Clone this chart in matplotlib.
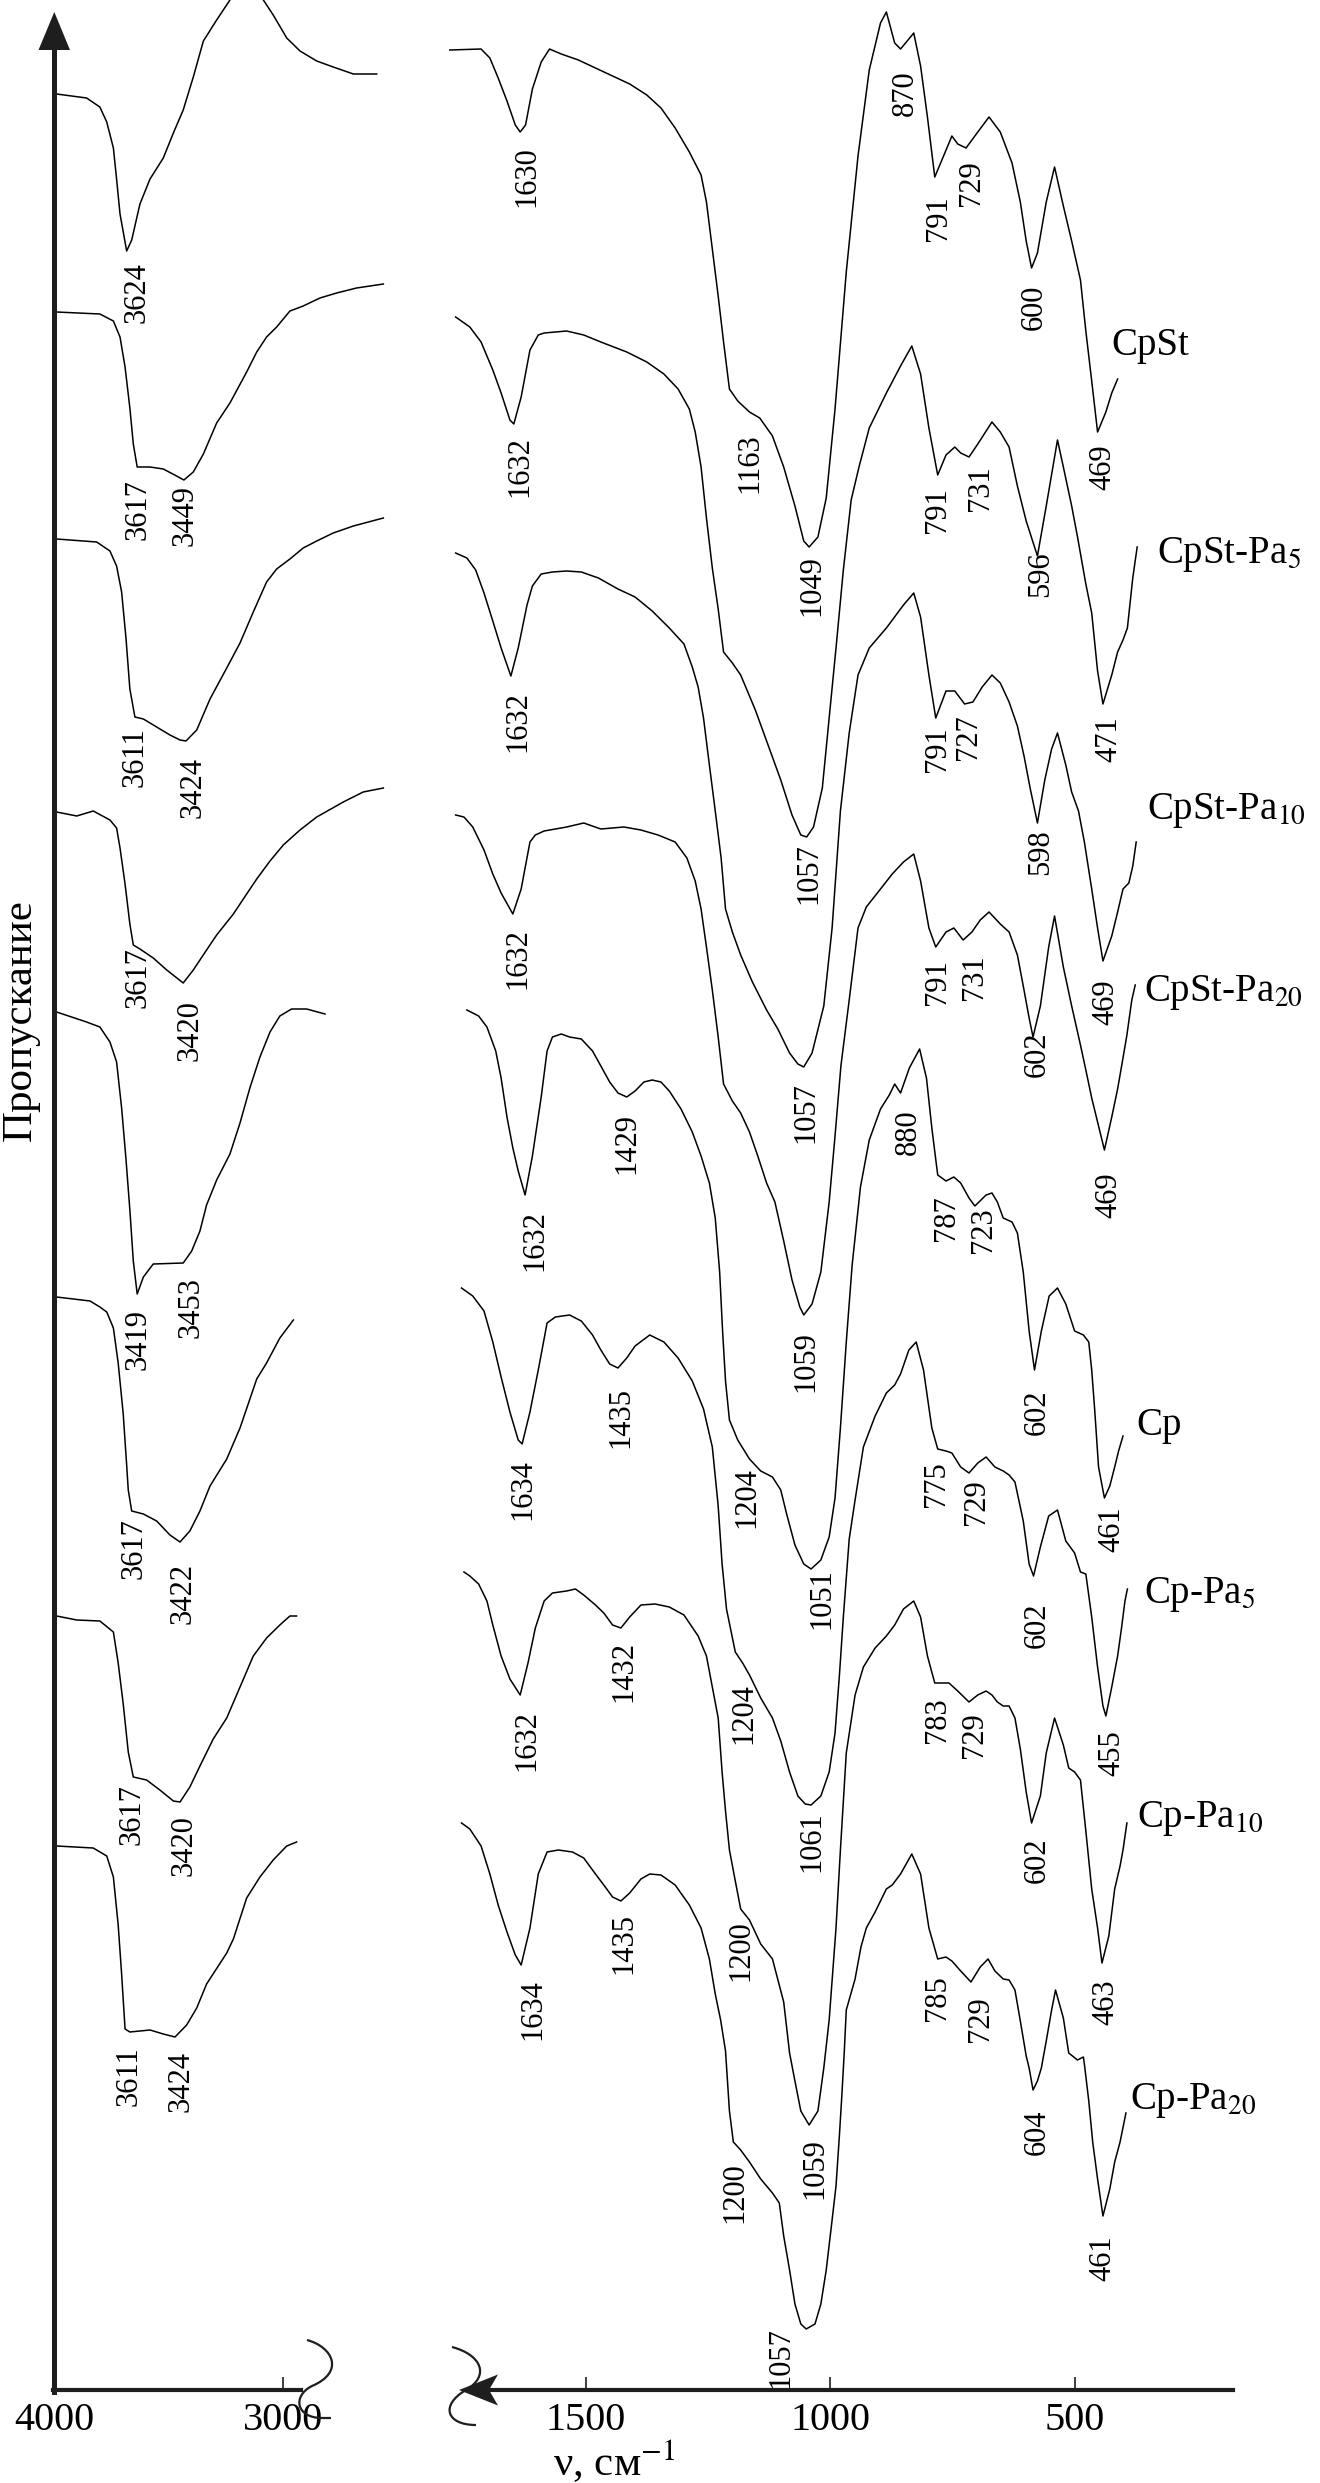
import numpy as np
import matplotlib.pyplot as plt
import matplotlib.transforms as mtransforms
from matplotlib.path import Path
from matplotlib.patches import PathPatch, Polygon

plt.rcParams['font.family'] = ['Liberation Serif', 'DejaVu Serif']
plt.rcParams['mathtext.fontset'] = 'stix'

# ИК-спектры, пропускание со сдвигом (усл. ед.); oh = 4000-2500 см-1, fp = 1800-350 см-1
cpst_oh = [(3990, 229.6), (3859, 229.2), (3801, 228.3), (3771, 226.8), (3742, 224.2), (3728, 221.1),
           (3713, 217.6), (3684, 213.9), (3662, 215.0), (3626, 218.6), (3582, 221.1), (3524, 223.2),
           (3480, 225.7), (3437, 228.0), (3393, 231.3), (3349, 234.9), (3291, 237.0), (3233, 239.0),
           (3201, 240.5), (3130, 240.3), (3087, 239.0), (3044, 237.5), (2985, 235.2), (2927, 233.9),
           (2854, 232.9), (2782, 232.3), (2694, 231.6), (2592, 231.6)]
cpst5_oh = [(3990, 207.8), (3801, 207.6), (3742, 206.9), (3713, 205.3), (3691, 202.3), (3670, 198.2),
            (3655, 194.6), (3638, 192.3), (3582, 192.3), (3524, 192.1), (3466, 191.4), (3434, 191.0),
            (3393, 191.8), (3349, 193.6), (3291, 196.7), (3233, 198.7), (3160, 201.8), (3116, 203.8),
            (3073, 205.3), (3029, 206.3), (2971, 207.9), (2913, 208.4), (2840, 209.2), (2767, 209.7),
            (2680, 210.2), (2563, 210.6)]
cpst10_oh = [(3990, 185.1), (3815, 184.8), (3757, 183.9), (3728, 182.4), (3706, 179.8), (3687, 175.2),
             (3670, 170.1), (3648, 167.3), (3611, 167.1), (3553, 166.3), (3495, 165.5), (3451, 165.0),
             (3425, 164.9), (3378, 166.0), (3320, 169.1), (3247, 172.2), (3189, 174.7), (3131, 177.8),
             (3073, 180.8), (3029, 182.1), (2971, 183.1), (2913, 184.2), (2854, 184.9), (2782, 185.7),
             (2694, 186.4), (2563, 187.2)]
cpst20_oh = [(3990, 157.8), (3902, 157.4), (3830, 157.9), (3757, 157.0), (3728, 156.2), (3713, 154.2),
             (3691, 150.6), (3670, 146.6), (3655, 144.5), (3626, 144.1), (3568, 143.2), (3509, 142.0),
             (3437, 140.7), (3393, 142.0), (3335, 144.0), (3291, 145.5), (3218, 147.6), (3160, 149.6),
             (3116, 151.1), (3058, 152.9), (3000, 154.5), (2927, 156.0), (2854, 157.3), (2738, 158.8),
             (2651, 159.8), (2563, 160.2)]
cp_oh = [(3990, 137.8), (3859, 136.8), (3801, 136.3), (3757, 134.8), (3728, 132.8), (3706, 128.2),
         (3687, 123.1), (3670, 118.0), (3655, 112.9), (3638, 109.6), (3611, 111.3), (3568, 112.6),
         (3437, 112.7), (3400, 113.9), (3364, 115.9), (3335, 118.5), (3291, 121.0), (3233, 123.6),
         (3189, 126.7), (3146, 130.2), (3102, 133.3), (3058, 135.8), (3015, 137.4), (2964, 138.1),
         (2898, 138.1), (2818, 137.6)]
cp5_oh = [(3990, 109.3), (3844, 108.9), (3801, 108.3), (3771, 107.8), (3742, 106.2), (3721, 102.7),
          (3699, 97.6), (3684, 92.5), (3677, 90.0), (3662, 87.9), (3611, 87.6), (3553, 86.9),
          (3495, 85.5), (3451, 84.8), (3408, 85.9), (3364, 87.9), (3320, 90.4), (3247, 93.1),
          (3189, 96.2), (3116, 101.1), (3073, 102.7), (3015, 105.2), (2956, 107.0)]
cp10_oh = [(3990, 77.4), (3902, 77.0), (3801, 76.9), (3742, 75.8), (3721, 72.7), (3699, 68.6),
           (3677, 63.8), (3655, 61.3), (3597, 61.0), (3539, 60.0), (3480, 58.9), (3451, 58.8),
           (3408, 60.3), (3364, 62.4), (3306, 65.1), (3247, 67.2), (3189, 70.3), (3131, 73.4),
           (3073, 75.2), (3015, 76.5), (2971, 77.4), (2942, 77.4)]
cp20_oh = [(3990, 54.4), (3830, 54.2), (3771, 53.4), (3742, 51.3), (3721, 46.5), (3706, 41.6),
           (3691, 36.1), (3670, 35.8), (3582, 36.0), (3524, 35.6), (3473, 35.3), (3422, 36.5),
           (3378, 38.2), (3335, 40.6), (3247, 43.7), (3218, 45.1), (3160, 49.2), (3102, 51.3),
           (3044, 53.0), (2985, 54.4), (2942, 54.8)]

cpst_fp = [(1778, 234.0), (1714, 234.1), (1696, 233.2), (1679, 231.2), (1661, 228.9), (1644, 226.5),
           (1634, 225.8), (1623, 226.5), (1609, 230.1), (1591, 232.8), (1574, 234.1), (1550, 233.6),
           (1515, 233.0), (1480, 232.2), (1445, 231.4), (1410, 230.6), (1375, 229.5), (1346, 228.2),
           (1317, 226.2), (1288, 223.8), (1264, 221.5), (1253, 218.8), (1241, 214.1), (1229, 209.4),
           (1218, 204.8), (1206, 200.1), (1189, 198.9), (1165, 197.8), (1144, 197.2), (1118, 195.4),
           (1095, 192.3), (1072, 188.4), (1054, 184.9), (1043, 184.3), (1025, 185.3), (1008, 189.2),
           (990, 198.1), (967, 211.8), (943, 223.4), (920, 232.0), (897, 236.7), (885, 237.8),
           (868, 234.7), (856, 234.1), (839, 235.1), (829, 235.7), (815, 232.4), (801, 227.3),
           (786, 221.3), (768, 223.4), (751, 225.4), (739, 224.6), (722, 224.2), (698, 225.8),
           (675, 227.3), (652, 225.8), (628, 222.7), (611, 218.8), (599, 214.9), (588, 212.2),
           (576, 213.7), (558, 218.8), (541, 222.3), (523, 218.4), (506, 214.9), (488, 211.0),
           (477, 205.9), (465, 200.9), (453, 195.8), (436, 197.8), (424, 199.7), (412, 201.1)]
cpst5_fp = [(1766, 207.3), (1737, 206.3), (1714, 204.8), (1690, 202.0), (1673, 199.7), (1655, 197.0),
            (1647, 196.6), (1632, 199.3), (1614, 204.0), (1597, 205.5), (1585, 205.7), (1539, 205.9),
            (1504, 205.5), (1469, 204.8), (1416, 203.8), (1375, 202.8), (1340, 201.6), (1311, 200.1),
            (1288, 198.1), (1276, 195.8), (1264, 192.3), (1253, 187.2), (1241, 182.2), (1229, 178.1),
            (1218, 173.8), (1200, 172.7), (1183, 171.5), (1153, 168.0), (1124, 164.1), (1101, 161.0),
            (1078, 157.5), (1060, 155.5), (1048, 155.3), (1034, 156.3), (1016, 160.2), (1002, 167.2),
            (988, 174.2), (973, 182.0), (957, 189.0), (941, 192.3), (920, 196.2), (885, 199.7),
            (856, 202.4), (833, 204.4), (815, 201.6), (798, 196.2), (780, 191.5), (763, 193.5),
            (745, 194.3), (733, 193.7), (716, 193.3), (698, 194.6), (669, 196.8), (652, 195.8),
            (634, 194.3), (617, 190.4), (599, 186.9), (576, 183.4), (558, 188.4), (535, 195.0),
            (523, 192.3), (506, 188.4), (494, 185.3), (477, 180.6), (465, 177.7), (453, 171.9),
            (442, 168.6), (424, 171.5), (412, 173.8), (401, 175.0), (392, 176.2), (381, 181.2),
            (372, 184.3)]
cpst10_fp = [(1766, 183.7), (1743, 183.2), (1725, 182.0), (1708, 179.7), (1690, 176.9), (1673, 174.2),
             (1653, 171.4), (1638, 174.2), (1620, 178.5), (1609, 180.4), (1591, 181.6), (1568, 181.8),
             (1539, 181.9), (1509, 181.8), (1474, 181.2), (1434, 180.1), (1399, 179.3), (1364, 177.9),
             (1329, 176.2), (1299, 174.6), (1282, 172.3), (1270, 170.3), (1259, 167.2), (1247, 162.5),
             (1235, 157.9), (1223, 153.2), (1214, 148.1), (1200, 145.8), (1183, 143.5), (1159, 140.8),
             (1130, 138.0), (1107, 136.1), (1083, 133.7), (1066, 132.6), (1054, 132.3), (1037, 133.7),
             (1013, 138.4), (996, 146.2), (979, 157.9), (961, 165.7), (943, 171.5), (920, 174.2),
             (885, 176.2), (850, 178.5), (829, 179.7), (815, 177.3), (798, 171.5), (784, 167.2),
             (763, 169.9), (745, 169.9), (725, 168.6), (708, 168.8), (689, 170.3), (669, 171.5),
             (652, 170.7), (634, 168.8), (617, 166.4), (603, 163.3), (591, 160.2), (576, 156.7),
             (561, 161.0), (547, 164.1), (535, 165.7), (518, 162.5), (506, 159.8), (492, 157.9),
             (480, 154.8), (465, 150.1), (453, 146.2), (442, 142.9), (424, 145.4), (412, 147.8),
             (401, 150.1), (389, 150.7), (381, 152.4), (374, 154.8)]
cpst20_fp = [(1766, 157.5), (1749, 157.3), (1731, 156.3), (1708, 154.0), (1690, 151.6), (1673, 149.7),
             (1649, 147.6), (1632, 150.1), (1614, 154.8), (1603, 155.5), (1585, 155.9), (1539, 156.3),
             (1504, 156.7), (1469, 156.1), (1422, 156.3), (1387, 156.0), (1352, 155.5), (1317, 154.8),
             (1293, 153.2), (1276, 150.9), (1264, 148.1), (1253, 144.3), (1241, 140.0), (1229, 135.3),
             (1218, 130.6), (1200, 128.9), (1183, 127.7), (1165, 125.8), (1148, 123.4), (1130, 120.7),
             (1113, 118.8), (1095, 114.9), (1078, 111.0), (1062, 108.3), (1054, 107.5), (1037, 108.6),
             (1019, 111.8), (1002, 118.8), (990, 125.4), (978, 132.4), (961, 139.0), (943, 146.2),
             (926, 148.3), (897, 150.1), (873, 151.6), (850, 152.8), (829, 153.6), (815, 150.9),
             (798, 146.2), (784, 144.3), (763, 145.8), (747, 146.2), (728, 145.0), (710, 145.8),
             (693, 147.0), (675, 147.8), (652, 146.6), (634, 145.8), (617, 143.5), (605, 140.4),
             (593, 137.2), (585, 135.3), (570, 138.4), (553, 144.3), (541, 147.4), (523, 142.3),
             (506, 138.4), (488, 134.5), (477, 132.0), (465, 129.2), (448, 125.8), (439, 124.0),
             (424, 127.3), (412, 130.1), (401, 133.2), (393, 135.5), (383, 139.0), (376, 140.5)]
cp_fp = [(1743, 138.0), (1719, 137.4), (1702, 136.3), (1684, 133.9), (1673, 131.2), (1661, 127.3),
         (1649, 124.2), (1638, 121.9), (1624, 119.5), (1609, 123.4), (1591, 129.3), (1579, 133.9),
         (1568, 135.3), (1550, 135.6), (1533, 135.3), (1509, 135.1), (1486, 133.9), (1469, 132.4),
         (1451, 130.8), (1434, 129.7), (1416, 129.3), (1399, 129.9), (1381, 130.8), (1364, 131.0),
         (1346, 130.8), (1329, 129.9), (1305, 128.1), (1282, 125.8), (1264, 123.4), (1247, 120.7),
         (1235, 117.2), (1226, 111.8), (1220, 105.9), (1214, 100.9), (1206, 97.0), (1189, 95.0),
         (1165, 93.1), (1142, 91.9), (1118, 91.3), (1101, 90.0), (1089, 87.6), (1072, 84.5),
         (1054, 82.6), (1039, 82.1), (1019, 83.0), (1002, 85.3), (990, 89.2), (979, 96.2),
         (967, 104.8), (955, 112.5), (938, 120.3), (920, 125.0), (897, 128.1), (879, 129.5),
         (868, 130.6), (856, 129.7), (838, 132.2), (817, 134.1), (803, 131.2), (792, 126.2),
         (780, 121.5), (763, 120.9), (747, 121.3), (733, 120.7), (716, 119.2), (704, 118.4),
         (681, 119.5), (669, 119.7), (658, 118.8), (646, 117.2), (628, 116.8), (617, 115.7),
         (605, 111.8), (593, 105.9), (582, 102.0), (568, 105.9), (552, 109.4), (535, 110.2),
         (518, 108.6), (500, 105.9), (482, 105.5), (471, 104.8), (465, 102.0), (459, 98.1),
         (451, 92.3), (439, 89.2), (428, 90.4), (418, 92.3), (410, 93.9), (401, 95.4)]
cp5_fp = [(1754, 110.2), (1731, 109.4), (1708, 107.9), (1690, 104.8), (1673, 101.3), (1655, 97.8),
          (1638, 95.0), (1630, 94.6), (1614, 97.8), (1597, 102.0), (1579, 106.7), (1562, 107.3),
          (1533, 107.5), (1509, 106.9), (1486, 105.5), (1469, 104.0), (1451, 102.6), (1434, 102.2),
          (1416, 103.2), (1399, 104.4), (1369, 105.5), (1340, 104.8), (1311, 103.2), (1282, 100.9),
          (1259, 98.1), (1241, 94.3), (1229, 88.4), (1221, 82.6), (1212, 78.1), (1194, 73.8),
          (1179, 72.7), (1165, 71.5), (1142, 69.2), (1118, 67.2), (1101, 64.9), (1083, 61.8),
          (1066, 59.4), (1051, 58.6), (1039, 58.5), (1019, 59.4), (1002, 61.8), (990, 65.7),
          (981, 71.5), (973, 77.3), (961, 85.1), (949, 89.0), (932, 94.3), (908, 97.4),
          (885, 99.7), (868, 100.5), (856, 101.6), (839, 104.0), (824, 104.8), (809, 102.0),
          (792, 96.2), (780, 94.1), (763, 93.9), (751, 93.7), (733, 92.3), (716, 91.7),
          (698, 92.7), (681, 93.3), (663, 92.3), (646, 91.9), (634, 91.5), (622, 90.8),
          (605, 86.9), (593, 82.6), (584, 81.4), (570, 84.3), (553, 87.4), (535, 88.0),
          (518, 84.9), (500, 83.7), (488, 81.8), (477, 81.6), (465, 77.3), (453, 72.3),
          (442, 68.4), (436, 67.4), (424, 70.3), (412, 73.4), (404, 76.2), (397, 78.9), (392, 80.1)]
cp10_fp = [(1749, 81.8), (1737, 81.4), (1719, 80.6), (1702, 78.9), (1690, 76.5), (1673, 73.4),
           (1655, 71.1), (1634, 69.5), (1618, 72.7), (1603, 76.2), (1585, 78.9), (1568, 79.7),
           (1539, 79.9), (1521, 80.1), (1504, 79.5), (1480, 78.5), (1463, 77.7), (1445, 76.5),
           (1428, 76.2), (1410, 77.3), (1387, 78.5), (1358, 78.6), (1329, 78.3), (1299, 77.5),
           (1270, 75.4), (1253, 73.4), (1241, 70.3), (1229, 67.2), (1221, 61.8), (1214, 57.9),
           (1206, 54.0), (1194, 50.9), (1183, 48.1), (1165, 47.0), (1142, 44.6), (1118, 43.1),
           (1095, 38.8), (1083, 33.7), (1072, 30.9), (1060, 27.9), (1043, 26.5), (1025, 27.9),
           (1013, 32.2), (1002, 37.0), (988, 46.2), (979, 54.0), (967, 63.7), (949, 69.5),
           (932, 72.3), (908, 74.2), (885, 75.4), (868, 76.5), (850, 78.1), (829, 78.9),
           (815, 77.3), (801, 73.4), (786, 70.7), (774, 70.7), (757, 70.7), (739, 69.9),
           (716, 68.8), (698, 69.5), (681, 69.9), (669, 69.5), (658, 68.8), (646, 68.4),
           (634, 68.4), (622, 67.2), (611, 64.1), (599, 59.8), (588, 56.7), (570, 59.4),
           (558, 63.7), (541, 67.2), (523, 64.5), (512, 62.2), (500, 61.8), (488, 61.0),
           (477, 55.9), (465, 50.1), (453, 46.2), (444, 42.7), (430, 45.4), (418, 50.1),
           (407, 52.4), (401, 54.0), (393, 56.7)]
cp20_fp = [(1754, 56.7), (1737, 56.1), (1714, 54.4), (1696, 51.6), (1679, 48.5), (1661, 45.8),
           (1644, 43.5), (1632, 42.5), (1614, 46.2), (1597, 51.6), (1579, 53.8), (1556, 54.0),
           (1527, 53.8), (1504, 53.2), (1480, 51.6), (1463, 50.5), (1445, 49.3), (1428, 48.9),
           (1410, 49.7), (1387, 51.1), (1369, 51.6), (1346, 51.5), (1317, 50.5), (1288, 48.5),
           (1264, 46.2), (1247, 43.1), (1235, 39.6), (1224, 37.0), (1214, 33.9), (1206, 27.9),
           (1198, 24.8), (1183, 24.0), (1165, 22.8), (1142, 21.1), (1118, 19.7), (1104, 18.7),
           (1095, 15.4), (1083, 12.0), (1072, 8.6), (1060, 6.6), (1049, 6.1), (1031, 6.6),
           (1019, 8.6), (1008, 12.0), (996, 17.0), (988, 20.4), (981, 25.5), (976, 29.5),
           (971, 33.9), (967, 38.0), (949, 41.1), (937, 44.3), (926, 46.2), (908, 47.8),
           (885, 50.1), (873, 50.5), (856, 51.6), (833, 53.6), (815, 51.6), (798, 46.2),
           (780, 43.1), (763, 43.3), (751, 42.9), (733, 41.9), (712, 40.8), (693, 42.3),
           (677, 43.1), (663, 41.9), (646, 41.1), (634, 41.0), (622, 40.0), (611, 36.9),
           (599, 33.4), (593, 32.2), (585, 30.0), (576, 30.9), (568, 32.2), (558, 34.9),
           (547, 38.0), (539, 40.0), (523, 37.2), (512, 33.7), (494, 33.0), (482, 33.3),
           (479, 32.2), (471, 28.9), (463, 24.8), (453, 21.1), (442, 17.4), (428, 20.1),
           (418, 22.8), (407, 24.8), (395, 27.7)]

samples = ['CpSt', 'CpSt-Pa$_{5}$', 'CpSt-Pa$_{10}$', 'CpSt-Pa$_{20}$',
           'Cp', 'Cp-Pa$_{5}$', 'Cp-Pa$_{10}$', 'Cp-Pa$_{20}$']
sample_wn = [424, 331, 351, 358, 374, 358, 372, 386]
sample_t = [204.4, 183.6, 157.9, 139.8, 96.4, 79.5, 57.1, 28.9]

oh_peak_txt = ['3624', '3617', '3449', '3611', '3424', '3617', '3420', '3419', '3453',
               '3617', '3422', '3617', '3420', '3611', '3424']
oh_peak_wn = [3638, 3633, 3429, 3648, 3396, 3633, 3408, 3633, 3405, 3651, 3440, 3662, 3434, 3672, 3448]
oh_peak_t = [209.7, 188.0, 187.5, 163.3, 160.2, 141.2, 135.9, 105.0, 108.3, 84.1, 79.7, 57.5, 54.4, 31.4, 30.9]

fp_peak_txt = ['1630', '870', '791', '729', '600', '469',
               '1632', '1163', '1049', '791', '731', '596', '471',
               '1632', '1057', '791', '727', '598', '469',
               '1632', '1057', '791', '731', '602', '469',
               '1632', '1429', '1059', '880', '787', '723', '602', '461',
               '1634', '1435', '1204', '1051', '775', '729', '602', '455',
               '1632', '1432', '1204', '1061', '783', '729', '602', '463',
               '1634', '1435', '1200', '1059', '785', '729', '604', '461',
               '1200', '1057']
fp_peak_wn = [1620, 847, 778, 710, 582, 442,
              1634, 1165, 1037, 780, 693, 570, 430,
              1638, 1043, 780, 716, 570, 436,
              1638, 1049, 780, 704, 576, 430,
              1603, 1416, 1049, 839, 763, 687, 576, 424,
              1628, 1428, 1171, 1016, 782, 701, 576, 424,
              1620, 1422, 1177, 1037, 780, 704, 576, 436,
              1609, 1422, 1183, 1031, 780, 693, 576, 442,
              1194, 1101]
fp_peak_t = [221.3, 229.7, 217.2, 220.7, 208.3, 192.3,
             192.3, 192.7, 180.4, 188.0, 190.2, 181.6, 165.1,
             166.8, 151.6, 164.1, 165.3, 153.8, 138.8,
             143.1, 127.7, 140.8, 141.3, 133.6, 119.5,
             114.9, 124.6, 102.8, 125.8, 117.2, 116.0, 97.8, 86.1,
             90.0, 97.2, 89.2, 79.1, 90.6, 88.8, 76.5, 63.7,
             64.9, 71.9, 67.6, 54.8, 67.0, 65.5, 53.0, 38.8,
             38.0, 44.6, 43.9, 22.1, 39.2, 37.1, 25.8, 13.2,
             19.7, 3.2]

oh_traces = [cpst_oh, cpst5_oh, cpst10_oh, cpst20_oh, cp_oh, cp5_oh, cp10_oh, cp20_oh]
fp_traces = [cpst_fp, cpst5_fp, cpst10_fp, cpst20_fp, cp_fp, cp5_fp, cp10_fp, cp20_fp]

W, H = 1320, 2483
AX_ROW = 2390          # пиксельная строка оси абсцисс
AX_COL = '#1e1e1e'
fig = plt.figure(figsize=(W / 100, H / 100), dpi=100)
# пиксели (от верхнего левого угла) -> доли фигуры, для осей-стрелок и значков разрыва
px = mtransforms.Affine2D().scale(1 / W, -1 / H).translate(0, 1) + fig.transFigure

bot = (H - AX_ROW) / H
ax1 = fig.add_axes([54.3 / W, bot, (390 - 54.3) / W, 1 - bot])
ax2 = fig.add_axes([440 / W, bot, (1233 - 440) / W, 1 - bot])
ax1.set_xlim(4000, 2534)
ax2.set_xlim(1798, 176)

for ax in (ax1, ax2):
    ax.set_ylim(0, 239)
    ax.patch.set_visible(False)
    for sp in ax.spines.values():
        sp.set_visible(False)
    ax.set_yticks([])
    ax.tick_params(axis='x', direction='in', length=9.5, width=1.2, pad=9,
                   labelsize=29, color=AX_COL)

ax1.set_xticks([4000, 3000], ['4000', '3000'])
ax2.set_xticks([1500, 1000, 500], ['1500', '1000', '500'])

for tr in oh_traces:
    wn, t = np.array(tr).T
    ax1.plot(wn, t, color='black', lw=1.1)
for tr in fp_traces:
    wn, t = np.array(tr).T
    ax2.plot(wn, t, color='black', lw=1.1)

for txt, x, y in zip(oh_peak_txt, oh_peak_wn, oh_peak_t):
    ax1.text(x, y, txt, rotation=90, ha='center', va='center', fontsize=22)
for txt, x, y in zip(fp_peak_txt, fp_peak_wn, fp_peak_t):
    ax2.text(x, y, txt, rotation=90, ha='center', va='center', fontsize=22)
for name, x, y in zip(samples, sample_wn, sample_t):
    ax2.text(x, y, name, ha='left', va='center', fontsize=28)

# оси: вертикальная со стрелкой, горизонтальные участки с разрывом
fig.add_artist(plt.Line2D([54.3, 54.3], [AX_ROW + 1.5, 48], transform=px, lw=3.6, color=AX_COL))
fig.add_artist(Polygon([(54.3, 12), (38.5, 50), (70, 50)], closed=True, transform=px,
                       color=AX_COL, lw=0))
fig.add_artist(plt.Line2D([52.5, 301], [AX_ROW, AX_ROW], transform=px, lw=3.0, color=AX_COL))
fig.add_artist(plt.Line2D([490, 1233], [AX_ROW, AX_ROW], transform=px, lw=3.0, color=AX_COL))
fig.add_artist(Polygon([(459, AX_ROW), (498, AX_ROW - 15.5), (489, AX_ROW), (498, AX_ROW + 15.5)],
                       closed=True, transform=px, color=AX_COL, lw=0))

brk_l = Path([(307, 2340), (333, 2347), (345, 2372), (312, 2386), (292, 2396), (296, 2418),
              (322, 2418), (331, 2418)],
             [Path.MOVETO, Path.CURVE4, Path.CURVE4, Path.CURVE4, Path.CURVE4, Path.CURVE4,
              Path.CURVE4, Path.LINETO])
brk_r = Path([(452, 2347), (482, 2355), (490, 2376), (466, 2390), (440, 2405), (446, 2425),
              (476, 2425)],
             [Path.MOVETO, Path.CURVE4, Path.CURVE4, Path.CURVE4, Path.CURVE4, Path.CURVE4,
              Path.CURVE4])
for pth in (brk_l, brk_r):
    fig.add_artist(PathPatch(pth, transform=px, fill=False, lw=1.6, color=AX_COL))

fig.text(553 / W, 1 - 2462 / H, 'ν, см$^{-1}$', fontsize=31, ha='left', va='center')
fig.text(21 / W, 1 - 1020 / H, 'Пропускание', rotation=90, fontsize=31, ha='center', va='center')

fig.savefig('out.png', dpi=100)
